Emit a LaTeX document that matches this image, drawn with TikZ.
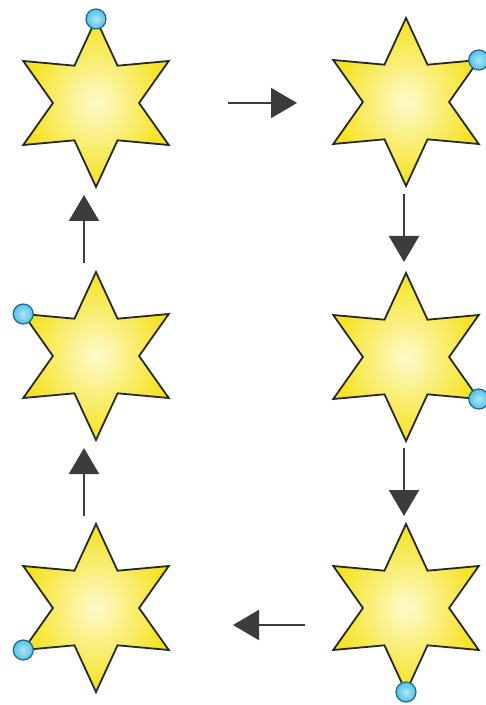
\documentclass[tikz,border=0pt]{standalone}
\usetikzlibrary{shapes.geometric, arrows.meta}
\definecolor{staryellow}{RGB}{244,226,28}
\definecolor{starcentre}{RGB}{255,250,205}
\definecolor{starline}{RGB}{40,40,35}
\definecolor{beadblue}{RGB}{80,195,232}
\definecolor{beadline}{RGB}{30,105,135}
\definecolor{arrowgrey}{RGB}{60,60,60}
\tikzset{
  hexstar/.style={star, star points=6, star point ratio=1.95, minimum size=84pt,
    inner sep=0pt, outer sep=0pt, draw=starline, line width=0.9pt,
    shading=radial, inner color=starcentre, outer color=staryellow},
  bead/.style={circle, minimum size=10pt, inner sep=0pt, draw=beadline, line width=0.6pt,
    shading=radial, inner color=beadblue!45!white, outer color=beadblue},
  flow/.style={draw=arrowgrey, line width=1pt,
    -{Triangle[length=13pt, width=15pt]}, arrowgrey}
}
\newcommand{\sixstar}[4]{
  \node[hexstar] (#1) at (#2,#3) {};
  \node[bead] (#1dot) at (#1.#4) {};
}
\begin{document}
\begin{tikzpicture}[x=0.5pt, y=-0.5pt]
  \useasboundingbox (0,0) rectangle (486,705);

  \sixstar{tl}{96}{103}{outer point 1}
  \sixstar{tr}{406}{102}{outer point 6}
  \sixstar{ml}{96}{356}{outer point 2}
  \sixstar{mr}{406}{357}{outer point 5}
  \sixstar{bl}{96}{608}{outer point 3}
  \sixstar{br}{406}{608}{outer point 4}

  % arrow ends
  \coordinate (topfrom) at (228,103);
  \coordinate (topto) at (297,103);
  \coordinate (rightfrom1) at (404,194);
  \coordinate (rightto1) at (404,262);
  \coordinate (rightfrom2) at (404,448);
  \coordinate (rightto2) at (404,516);
  \coordinate (botfrom) at (305,625);
  \coordinate (botto) at (233,625);
  \coordinate (leftfrom2) at (84,516);
  \coordinate (leftto2) at (84,448);
  \coordinate (leftfrom1) at (84,263);
  \coordinate (leftto1) at (84,195);

  \draw[flow] (topfrom) -- (topto);
  \draw[flow] (rightfrom1) -- (rightto1);
  \draw[flow] (rightfrom2) -- (rightto2);
  \draw[flow] (botfrom) -- (botto);
  \draw[flow] (leftfrom2) -- (leftto2);
  \draw[flow] (leftfrom1) -- (leftto1);
\end{tikzpicture}
\end{document}
